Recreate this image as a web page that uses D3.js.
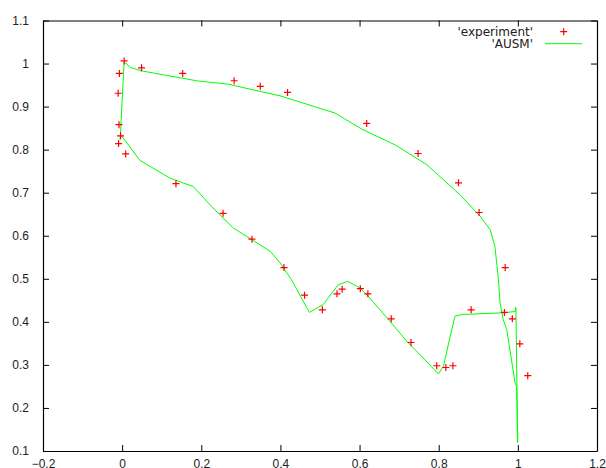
<!DOCTYPE html>
<html>
<head>
<meta charset="utf-8">
<script src="https://cdn.jsdelivr.net/npm/d3@7"></script>
<style>
  body { margin: 0; background: #fff; }
  svg { display: block; font-family: "DejaVu Sans", sans-serif; }
  .axis text { font-size: 12px; fill: #222; }
  .axis path, .axis line { stroke: #000; }
</style>
</head>
<body>
<svg id="chart" width="606" height="468"></svg>
<script>
// experiment points
const expX = [0.005, 0.049, 0.153, 0.283, 0.349, 0.418, 0.618, 0.748, 0.850, 0.902, 0.968, 0.986, 1.005, 1.025,
  -0.007, -0.010, -0.008, -0.004, -0.009, 0.009, 0.136, 0.255, 0.328, 0.409, 0.461, 0.506, 0.543, 0.556,
  0.602, 0.621, 0.680, 0.730, 0.795, 0.818, 0.836, 0.882, 0.966];
const expY = [1.006, 0.990, 0.977, 0.960, 0.947, 0.933, 0.861, 0.791, 0.723, 0.654, 0.526, 0.407, 0.349, 0.275,
  0.977, 0.931, 0.858, 0.832, 0.814, 0.790, 0.721, 0.652, 0.592, 0.526, 0.462, 0.428, 0.465, 0.476,
  0.477, 0.465, 0.407, 0.352, 0.298, 0.294, 0.298, 0.428, 0.422];

// AUSM curve
const ausmX = [1.000, 0.997, 0.993, 0.972, 0.963, 0.955, 0.951, 0.942, 0.930, 0.904, 0.854, 0.770, 0.690, 0.605,
  0.538, 0.399, 0.268, 0.188, 0.049, 0.020, 0.010, 0.005, -0.005, -0.003, 0.045, 0.121, 0.180, 0.226, 0.281,
  0.326, 0.374, 0.399, 0.428, 0.473, 0.508, 0.546, 0.570, 0.601, 0.626, 0.677, 0.719, 0.761, 0.799, 0.812,
  0.829, 0.841, 0.858, 0.963, 0.993, 0.995, 0.997, 0.999];
const ausmY = [0.120, 0.250, 0.258, 0.382, 0.405, 0.444, 0.498, 0.575, 0.614, 0.646, 0.695, 0.765, 0.811, 0.848,
  0.885, 0.925, 0.952, 0.960, 0.983, 0.991, 1.001, 1.002, 0.824, 0.834, 0.775, 0.734, 0.714, 0.668, 0.618,
  0.592, 0.564, 0.537, 0.498, 0.422, 0.440, 0.486, 0.494, 0.479, 0.455, 0.401, 0.355, 0.316, 0.279, 0.297,
  0.366, 0.413, 0.417, 0.421, 0.424, 0.434, 0.300, 0.120];

const xTicks = [-0.2, 0, 0.2, 0.4, 0.6, 0.8, 1, 1.2];
const yTicks = [0.1, 0.2, 0.3, 0.4, 0.5, 0.6, 0.7, 0.8, 0.9, 1, 1.1];

const svg = d3.select('#chart');
const plot = { left: 43, right: 597, top: 20.5, bottom: 451 };

const x = d3.scaleLinear().domain([-0.2, 1.2]).range([plot.left, plot.right]);
const y = d3.scaleLinear().domain([0.1, 1.1]).range([plot.bottom, plot.top]);

// axes, ticks pointing inward, mirrored on top/right
svg.append('g').attr('class', 'axis')
  .attr('transform', `translate(0,${plot.bottom})`)
  .call(d3.axisBottom(x).tickValues(xTicks).tickFormat(d3.format('')).tickSizeInner(-6).tickSizeOuter(0).tickPadding(8));
svg.append('g').attr('class', 'axis')
  .attr('transform', `translate(${plot.left},0)`)
  .call(d3.axisLeft(y).tickValues(yTicks).tickFormat(d3.format('')).tickSizeInner(-6).tickSizeOuter(0).tickPadding(14));
svg.append('g').attr('class', 'axis')
  .attr('transform', `translate(0,${plot.top})`)
  .call(d3.axisTop(x).tickValues(xTicks).tickFormat('').tickSizeInner(-6).tickSizeOuter(0));
svg.append('g').attr('class', 'axis')
  .attr('transform', `translate(${plot.right},0)`)
  .call(d3.axisRight(y).tickValues(yTicks).tickFormat('').tickSizeInner(-6).tickSizeOuter(0));

svg.selectAll('.axis .domain').attr('stroke-width', 1.2);

// AUSM line
const ausm = ausmX.map((v, i) => [v, ausmY[i]]);
svg.append('path')
  .datum(ausm)
  .attr('fill', 'none')
  .attr('stroke', '#00ff00')
  .attr('stroke-width', 1)
  .attr('d', d3.line().x(d => x(d[0])).y(d => y(d[1])));

// experiment markers
const plus = (sel, cx, cy) => {
  sel.append('path')
    .attr('d', `M${cx - 3.5},${cy}H${cx + 3.5}M${cx},${cy - 3.5}V${cy + 3.5}`)
    .attr('stroke', '#ff0000')
    .attr('stroke-width', 1.2)
    .attr('fill', 'none');
};
const pts = svg.append('g');
expX.forEach((v, i) => plus(pts, x(v), y(expY[i])));

// legend
const leg = svg.append('g').style('font-size', '12px');
leg.append('text').attr('x', 533).attr('y', 31.7).attr('dy', '0.35em')
  .attr('text-anchor', 'end').attr('fill', '#222').text("'experiment'");
plus(leg, 563.7, 31.7);
leg.append('text').attr('x', 533).attr('y', 43.7).attr('dy', '0.35em')
  .attr('text-anchor', 'end').attr('fill', '#222').text("'AUSM'");
leg.append('line').attr('x1', 545).attr('x2', 582).attr('y1', 43.7).attr('y2', 43.7)
  .attr('stroke', '#00ff00').attr('stroke-width', 1);
</script>
</body>
</html>
